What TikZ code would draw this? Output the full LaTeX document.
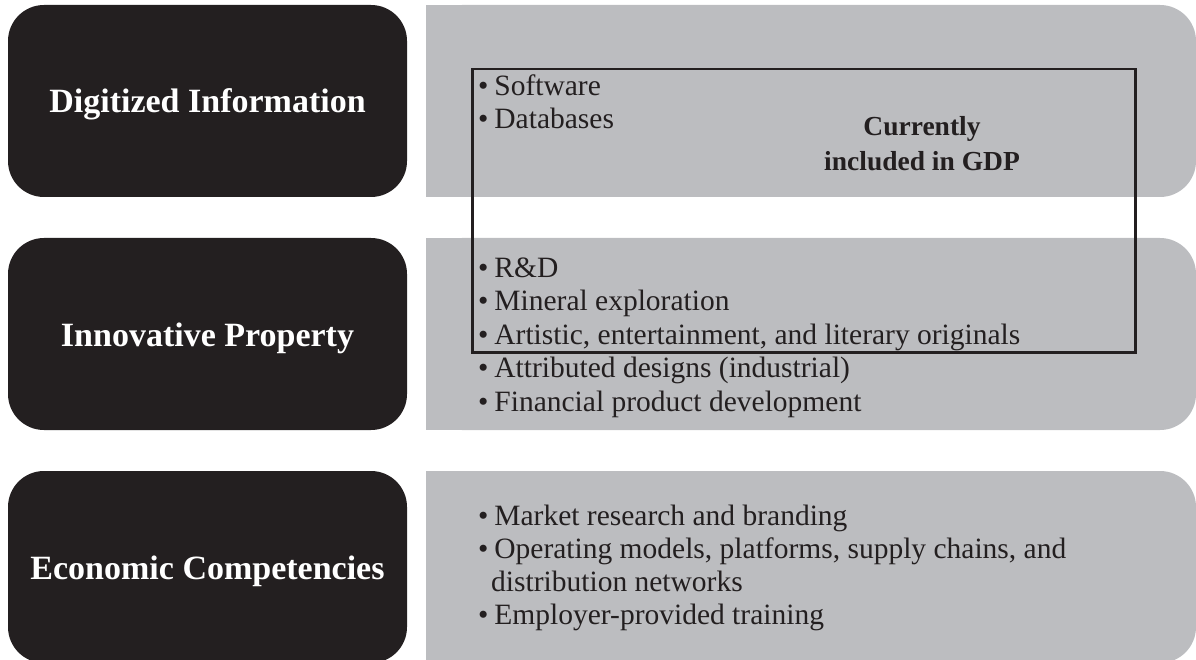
\documentclass[tikz,border=0pt]{standalone}
\usepackage{fontspec}
\setmainfont{Liberation Serif}
\definecolor{ink}{HTML}{231F20}
\definecolor{panel}{HTML}{BCBDC0}
\newcommand{\itembullet}{\textbullet\hspace{0.2em}}
\begin{document}
\begin{tikzpicture}[x=1pt,y=-1pt,
  catbox/.style={fill=ink, rounded corners=36pt, minimum width=399pt, minimum height=192pt, inner sep=0pt},
  cattext/.style={text=white, font=\fontsize{34}{40}\selectfont\bfseries, anchor=base},
  item/.style={text=ink, font=\fontsize{29.5}{33}\selectfont, anchor=base west, inner sep=0pt},
  gdptext/.style={text=ink, font=\fontsize{27.5}{34}\selectfont\bfseries, anchor=base, inner sep=0pt}]
\useasboundingbox (0,0) rectangle (1196,660);

% grey panels: square on the left, rounded on the right
\foreach \t/\b in {5/197, 238/430, 471/663} {
  \fill[panel, rounded corners=36pt] (426,\t) rectangle (1196,\b);
  \fill[panel] (426,\t) rectangle (520,\b);
}

% category boxes
\node[catbox] (digi) at (207.5,101) {};
\node[catbox] (inno) at (207.5,334) {};
\node[catbox] (econ) at (207.5,567) {};
\node[cattext] (digit) at (207.5,113) {Digitized Information};
\node[cattext] (innot) at (207.5,346) {Innovative Property};
\node[cattext] (econt) at (207.5,579) {Economic Competencies};

% items
\node[item] (sw) at (478,96) {\itembullet Software};
\node[item] (db) at (478,129) {\itembullet Databases};

\node[item] (rd) at (478,277) {\itembullet R\&D};
\node[item] (me) at (478,310.5) {\itembullet Mineral exploration};
\node[item] (ar) at (478,344) {\itembullet Artistic, entertainment, and literary originals};
\node[item] (ad) at (478,377.5) {\itembullet Attributed designs (industrial)};
\node[item] (fp) at (478,411) {\itembullet Financial product development};

\node[item] (mr) at (478,525) {\itembullet Market research and branding};
\node[item] (om) at (478,558) {\itembullet Operating models, platforms, supply chains, and};
\node[item] (dn) at (491,591) {distribution networks};
\node[item] (et) at (478,624) {\itembullet Employer-provided training};

% GDP boundary
\node[draw=ink, line width=2.5pt, inner sep=0pt, anchor=north west,
      minimum width=663pt, minimum height=283pt] (gdp) at (471,68) {};
\node[gdptext] (cur) at (922,136) {Currently};
\node[gdptext] (inc) at (922,171) {included in GDP};
\end{tikzpicture}
\end{document}
